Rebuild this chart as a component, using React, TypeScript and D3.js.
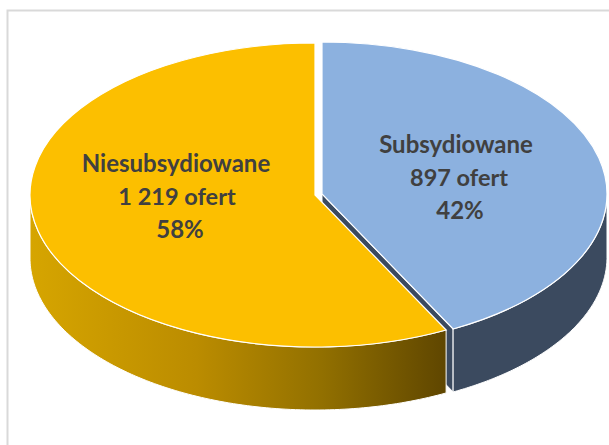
import React from 'react';
import * as d3 from 'd3';

const categories = ['Subsydiowane', 'Niesubsydiowane'];
const offers = [897, 1219];
const offerLabels = ['897 ofert', '1 219 ofert'];
const shareLabels = ['42%', '58%'];
const topColors = ['#8cb1df', '#fcbf00'];

const WIDTH = 609;
const HEIGHT = 445;
const rx = 285;
const ry = 152;
const depth = 63;
// each slice is pulled out a little, so they have their own apex
const apexes = [{ x: 322, y: 194 }, { x: 315, y: 195 }];
const labelPos = [{ x: 456, y: 153 }, { x: 176, y: 172 }];
// the lines are not quite centred on each other in the original
const lineShift = [[0, 3, 4], [0, 1, 4]];
const lineSizes = [24, 23.5, 24];
const lineStep = 33;

const slices = d3.pie<number>().sort(null).startAngle(0).endAngle(2 * Math.PI)(offers);

const arcGen = d3.arc<d3.PieArcDatum<number>>().innerRadius(0).outerRadius(rx);

function wallPath(i: number) {
    const s = slices[i];
    const c = apexes[i];
    // only the front half of the rim can be seen
    const a0 = Math.max(s.startAngle, Math.PI / 2);
    const a1 = Math.min(s.endAngle, (3 * Math.PI) / 2);
    const angles = d3.range(0, 121).map(k => a0 + ((a1 - a0) * k) / 120);
    return d3.area<number>()
        .x(a => c.x + rx * Math.sin(a))
        .y0(a => c.y - ry * Math.cos(a))
        .y1(a => c.y - ry * Math.cos(a) + depth)(angles) as string;
}

function cutFace(i: number) {
    const s = slices[i];
    const c = apexes[i];
    const tip = { x: c.x + rx * Math.sin(s.endAngle), y: c.y - ry * Math.cos(s.endAngle) };
    return d3.line()([
        [c.x, c.y],
        [tip.x, tip.y],
        [tip.x, tip.y + depth],
        [c.x, c.y + depth],
    ]) + 'Z';
}

function TopFace({ i }: { i: number }) {
    return (
        <path
            d={arcGen(slices[i]) as string}
            transform={`translate(${apexes[i].x},${apexes[i].y}) scale(1,${ry / rx})`}
            fill={topColors[i]}
            stroke="#fff"
            strokeWidth={1.2}
            vectorEffect="non-scaling-stroke"
        />
    );
}

function Label({ i }: { i: number }) {
    const lines = [categories[i], offerLabels[i], shareLabels[i]];
    return (
        <text
            textAnchor="middle"
            fontFamily="Lato, sans-serif"
            fontWeight={700}
            fill="#404040"
        >
            {lines.map((l, k) => (
                <tspan
                    key={k}
                    x={labelPos[i].x + lineShift[i][k]}
                    y={labelPos[i].y + k * lineStep}
                    fontSize={lineSizes[k]}
                >
                    {l}
                </tspan>
            ))}
        </text>
    );
}

export default function App() {
    return (
        <svg
            width={WIDTH}
            height={HEIGHT}
            style={{ position: 'absolute', left: 0, top: 0 }}
        >
            <defs>
                <linearGradient id="yellowWall" gradientUnits="userSpaceOnUse" x1={30} x2={446} y1={0} y2={0}>
                    <stop offset="0" stopColor="#d6a500" />
                    <stop offset="0.4" stopColor="#bb8c00" />
                    <stop offset="0.7" stopColor="#927000" />
                    <stop offset="1" stopColor="#5f4600" />
                </linearGradient>
            </defs>
            <rect x={0} y={0} width={WIDTH} height={HEIGHT} fill="#fff" />
            <path d={`M7.5,${HEIGHT}V10.5H${WIDTH}`} fill="none" stroke="#d9d9d9" strokeWidth={2} />

            <path d={cutFace(0)} fill="#3b4a5f" stroke="#fff" strokeWidth={1} />
            <path d={wallPath(0)} fill="#3b4a5f" stroke="#fff" strokeWidth={1} />
            <TopFace i={0} />

            <path d={wallPath(1)} fill="url(#yellowWall)" stroke="#fff" strokeWidth={1} />
            <TopFace i={1} />

            <Label i={0} />
            <Label i={1} />
        </svg>
    );
}
